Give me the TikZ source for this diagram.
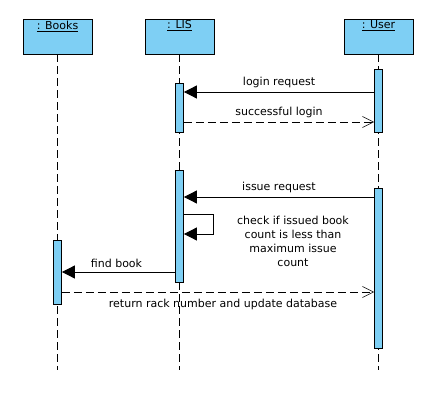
\documentclass[tikz,border=0pt]{standalone}
\usepackage{fontspec}
\setmainfont{DejaVu Sans}
\usepackage{tikz}
\usetikzlibrary{
  arrows.meta,
  positioning,
  calc,
}
\definecolor{lifeFill}{HTML}{7ECFF4}
\tikzset{
  objbox/.style={
    rectangle, draw=black, fill=lifeFill, line width=0.8pt,
    minimum width=69pt, minimum height=35pt, inner sep=0pt,
  },
  actbox/.style={
    rectangle, draw=black, fill=lifeFill, line width=0.8pt,
    minimum width=8pt, inner sep=0pt,
  },
  lifeline/.style={
    line width=0.6pt, dash pattern=on 8pt off 4pt,
  },
  msgCall/.style={
    -{Triangle[length=13pt,width=13pt]}, line width=0.8pt,
  },
  msgReturn/.style={
    -{Straight Barb[length=11pt,width=11pt]}, line width=0.6pt,
    dash pattern=on 8pt off 4pt,
  },
  msgLabel/.style={
    font=\fontsize{11}{14}\selectfont, inner sep=1pt, align=center,
  },
}

\begin{document}
\begin{tikzpicture}[x=1pt, y=-1pt]
\useasboundingbox (0,0) rectangle (436,414);

% objects and lifelines
\foreach \name/\xpos/\txt in {books/57.5/Books, lis/179.5/LIS, user/378.5/User}
{
  \node[objbox, label={[anchor=north, inner sep=2pt, font=\fontsize{11}{13}\selectfont]north:\underline{: \txt}}]
    (\name) at (\xpos, 36.5) {};
  \coordinate (\name End) at (\xpos, 370);
  \draw[lifeline] (\name) -- (\name End);
}

% activations
\node[actbox, minimum height=49pt]  (lisAct1)   at (179.5, 107.5) {};
\node[actbox, minimum height=63pt]  (userAct1)  at (378.5, 100.5) {};
\node[actbox, minimum height=112pt] (lisAct2)   at (179.5, 226)   {};
\node[actbox, minimum height=160pt] (userAct2)  at (378.5, 268)   {};
\node[actbox, minimum height=64pt]  (booksAct)  at (57.5, 272)    {};

% messages
\draw[msgCall] (userAct1.west |- 0,92) --
  node[msgLabel, above=3pt] {login request} (lisAct1.east |- 0,92);
\draw[msgReturn] (lisAct1.east |- 0,122) --
  node[msgLabel, above=3pt] {successful login} (userAct1.west |- 0,122);
\draw[msgCall] (userAct2.west |- 0,197) --
  node[msgLabel, above=3pt] {issue request} (lisAct2.east |- 0,197);
\draw[msgCall] (lisAct2.east |- 0,214) -- ++(29,0) |- (lisAct2.east |- 0,234);
\node[msgLabel] (checkNote) at (293,241)
  {check if issued book\\count is less than\\maximum issue\\count};
\draw[msgCall] (lisAct2.west |- 0,272) --
  node[msgLabel, above=3pt, xshift=-2pt] {find book} (booksAct.east |- 0,272);
\draw[msgReturn] (booksAct.east |- 0,292) --
  node[msgLabel, below=6pt, xshift=5pt] {return rack number and update database} (userAct2.west |- 0,292);

\end{tikzpicture}
\end{document}
